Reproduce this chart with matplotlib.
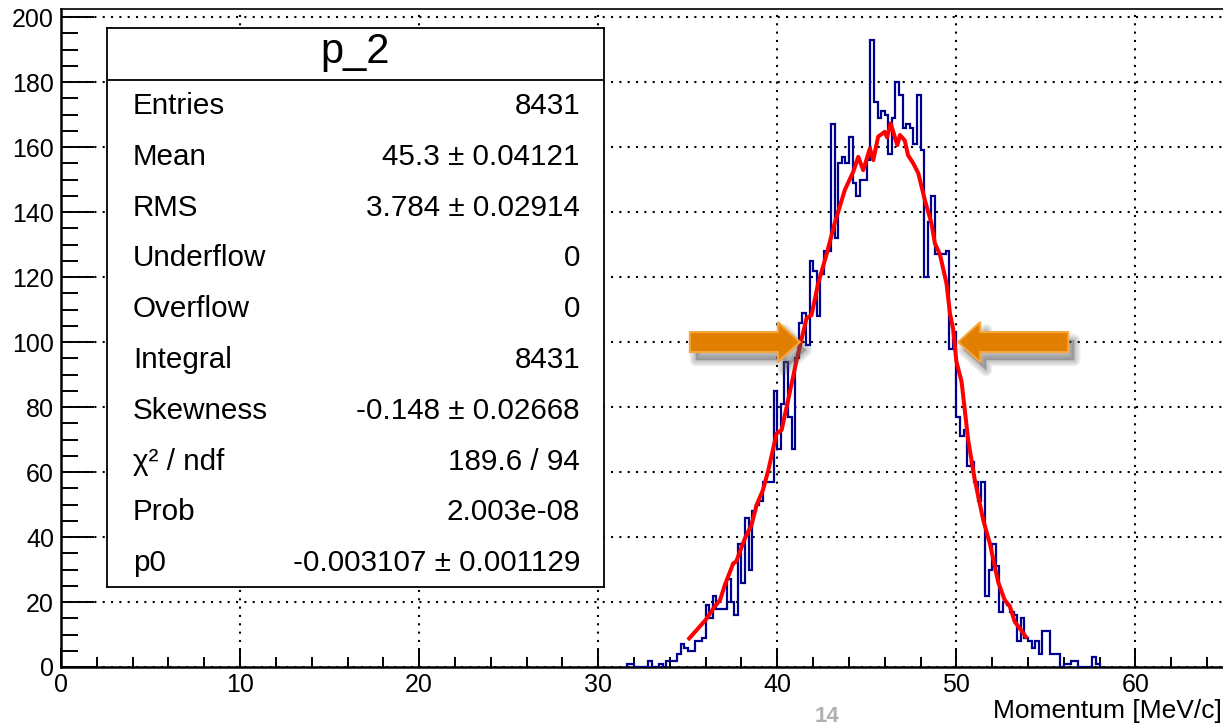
import numpy as np
import matplotlib.pyplot as plt
from matplotlib.patches import Polygon
from matplotlib.ticker import MultipleLocator

plt.rcParams['font.family'] = ['Liberation Sans', 'DejaVu Sans']

# histogram p_2, 0.2 MeV/c bins starting at 31.6
bin_start = 31.6
bin_width = 0.2
counts = [1, 1, 0, 0, 0, 0, 2, 0, 0, 1,            # 31.6 - 33.4
          0, 2, 2, 2, 4, 7, 6, 5, 5, 8,            # 33.6 - 35.4
          8, 9, 19, 15, 22, 18, 18, 18, 27, 20,    # 35.6 - 37.4
          16, 38, 26, 46, 30, 48, 50, 51, 57, 57,  # 37.6 - 39.4
          57, 85, 67, 81, 94, 77, 67, 95, 106, 109,  # 39.6 - 41.4
          99, 125, 122, 108, 121, 128, 128, 167, 132, 155,  # 41.6 - 43.4
          157, 155, 163, 149, 145, 150, 150, 156, 193, 174,  # 43.6 - 45.4
          169, 171, 170, 158, 169, 180, 176, 166, 167, 166,  # 45.6 - 47.4
          161, 176, 159, 120, 137, 145, 127, 127, 127, 128,  # 47.6 - 49.4
          98, 103, 77, 71, 73, 62, 63, 57, 51, 57,   # 49.6 - 51.4
          22, 30, 38, 31, 17, 20, 19, 17, 16, 8,     # 51.6 - 53.4
          15, 9, 8, 6, 8, 4, 11, 11, 4, 4,           # 53.6 - 55.4
          4, 0, 1, 1, 2, 2, 0, 0, 0, 0,              # 55.6 - 57.4
          3, 1]                                      # 57.6 - 57.8
edges = bin_start + bin_width * np.arange(len(counts) + 1)

# fitted curve (red)
fit_x = [35.08, 36.0, 36.5, 36.8, 37.07, 37.54, 37.7, 38.19, 38.56, 38.84,
         39.2, 39.5, 39.96, 40.24, 40.52, 41.08, 41.63, 41.91, 42.28, 42.75,
         43.2, 43.77, 44.24, 44.52, 44.8, 45.17, 45.36, 45.63, 46.0, 46.13,
         46.33, 46.7, 46.85, 47.12, 47.3, 47.59, 47.87, 48.24, 48.61, 48.8,
         49.08, 49.45, 49.64, 49.82, 50.0, 50.29, 50.66, 51.03, 51.5, 51.87,
         52.33, 52.7, 52.99, 53.26, 53.54, 53.88]
fit_y = [8.8, 14.5, 18.6, 20.6, 25.2, 31.9, 32.4, 39.6, 43.7, 49.8,
         54.5, 60.6, 71.9, 72.9, 80.0, 94.5, 107.3, 108.3, 118.0, 127.0,
         136.5, 146.8, 152.4, 157.0, 152.9, 159.6, 156.0, 163.2, 164.7, 163.0,
         167.3, 160.6, 163.7, 162.0, 157.5, 155.0, 152.0, 143.7, 136.5, 130.4,
         127.0, 118.0, 108.8, 104.0, 94.0, 87.8, 69.8, 57.5, 45.2, 38.0,
         26.2, 20.6, 18.6, 13.9, 11.9, 9.3]

stat_names = ['Entries', 'Mean', 'RMS', 'Underflow', 'Overflow', 'Integral',
              'Skewness', 'χ² / ndf', 'Prob', 'p0']
stat_values = ['8431', '45.3 ± 0.04121', '3.784 ± 0.02914', '0', '0', '8431',
               '-0.148 ± 0.02668', '189.6 / 94', '2.003e-08',
               '-0.003107 ± 0.001129']

# arrows marking the half maximum: tip x, direction
arrow_tips = [(41.26, 1), (50.1, -1)]
arrow_y = 100

W, H = 1223, 726
fig = plt.figure(figsize=(W / 100, H / 100), dpi=100)
ax = fig.add_axes([61 / W, 59 / H, 1164 / W, 658 / H])

ax.stairs(counts, edges, color='#00008f', lw=1.6, zorder=3)
ax.plot(fit_x, fit_y, color='#ff0000', lw=2.9, zorder=4)

ax.set_xlim(0, 65)
ax.set_ylim(0, 202.5)
ax.xaxis.set_major_locator(MultipleLocator(10))
ax.xaxis.set_minor_locator(MultipleLocator(2))
ax.yaxis.set_major_locator(MultipleLocator(20))
ax.yaxis.set_minor_locator(MultipleLocator(5))
ax.tick_params(axis='x', which='major', direction='in', length=13.5, width=1.4,
               labelsize=18, pad=4)
ax.tick_params(axis='x', which='minor', direction='in', length=7, width=1.4)
ax.tick_params(axis='y', which='major', direction='in', length=24, width=1.4,
               labelsize=18, pad=5)
ax.tick_params(axis='y', which='minor', direction='in', length=12, width=1.4)
ax.grid(True, which='major', color='k', ls=(0, (1, 3)), lw=1.5, zorder=1)
for s in ['left', 'bottom']:
    ax.spines[s].set_linewidth(1.8)
ax.spines['top'].set_linewidth(1.2)
ax.spines['right'].set_visible(False)

# orange arrows with soft shadow
px_x = 1164 / 65
px_y = 658 / 202.5
length = 110 / px_x
head_len = 22 / px_x
body_h = 10 / px_y
head_h = 20 / px_y
for tip, d in arrow_tips:
    base = tip - d * head_len
    tail = tip - d * length
    pts = np.array([[tail, arrow_y - body_h], [base, arrow_y - body_h],
                    [base, arrow_y - head_h], [tip, arrow_y],
                    [base, arrow_y + head_h], [base, arrow_y + body_h],
                    [tail, arrow_y + body_h]])
    sh = pts + [6 / px_x, -8 / px_y]
    for i in range(5):
        ax.add_patch(Polygon(sh, closed=True, fc='#555555', ec='#555555',
                             lw=9 - 2 * i, alpha=0.09, joinstyle='round', zorder=5))
    ax.add_patch(Polygon(pts, closed=True, fc='#e07f00', ec='#f7a540', lw=1.5,
                         zorder=6))

# statistics box
bx0, bx1, by0, by1 = 107, 604, 28, 587
sax = fig.add_axes([bx0 / W, 1 - by1 / H, (bx1 - bx0) / W, (by1 - by0) / H])
sax.set_xlim(bx0, bx1)
sax.set_ylim(by1, by0)
sax.set_xticks([])
sax.set_yticks([])
for s in sax.spines.values():
    s.set_linewidth(1.3)
sax.axhline(80, color='k', lw=1.3)
sax.text((bx0 + bx1) / 2, 52, 'p_2', ha='center', va='center', fontsize=30)
for i, (n, v) in enumerate(zip(stat_names, stat_values)):
    y = 106 + 50.8 * i
    sax.text(133, y, n, ha='left', va='center', fontsize=21.3)
    sax.text(580, y, v, ha='right', va='center', fontsize=21.3)

fig.text(1222 / W, 1 - 711 / H, 'Momentum [MeV/c]', ha='right', va='center',
         fontsize=19)
fig.text(827 / W, 1 - 716 / H, '14', ha='center', va='center', fontsize=16,
         fontweight='bold', color='#b0b0b0')

fig.savefig('out.png', dpi=100)
